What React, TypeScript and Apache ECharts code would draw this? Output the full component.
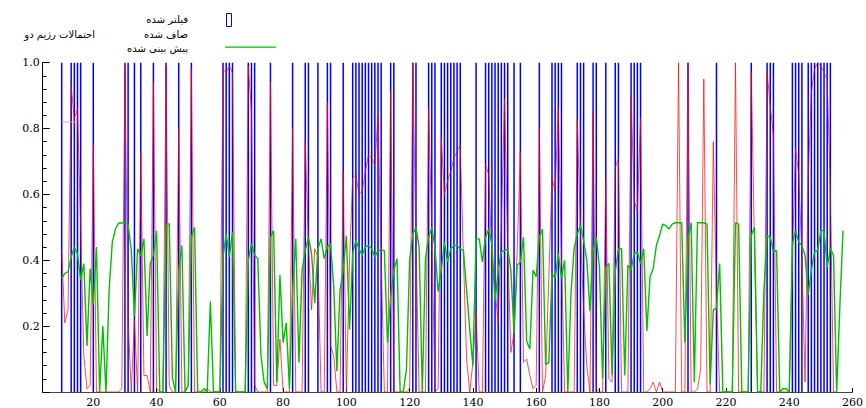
import React, { useEffect, useRef } from "react";
import * as echarts from "echarts";

const X_MIN = 4;
const X_MAX = 260;
const xTickValues = [20, 40, 60, 80, 100, 120, 140, 160, 180, 200, 220, 240, 260];
const START = 10;

// blue: filtered (positions where filtered regime-2 flag is on)
const filteredOn = [
  10, 13, 14, 15, 16, 20, 30, 31, 33, 35, 39, 43, 47, 51, 61, 62, 63, 64, 69, 70, 71, 76, 83, 87, 88, 91, 94, 95, 99,
  102, 103, 104, 105, 106, 107, 108, 109, 110, 111, 114, 115, 121, 122, 126, 127, 128, 130, 131, 132, 133, 134, 135,
  136, 141, 144, 145, 146, 147, 148, 149, 150, 151, 153, 155, 161, 165, 166, 167, 168, 173, 174, 175, 178, 179, 182,
  185, 186, 190, 191, 192, 193, 208, 217, 228, 233, 234, 235, 241, 242, 243, 244, 246, 247, 248, 249, 250, 251, 252, 253,
];

// red: smoothed, starting at START
const smoothed = [
  0.43, 0.21, 0.25, 0.93, 0.83, 0.86, 0.5, 0.11, 0.01, 0.02,
  0.75, 0, 0, 0, 0, 0, 0, 0, 0, 0.01,
  0.99, 0.22, 0, 0.22, 0, 0.73, 0.05, 0.05, 0, 0.94,
  0.01, 0, 0, 0.99, 0.02, 0, 0, 0.8, 0, 0,
  0.02, 0.98, 0, 0, 0, 0, 0.01, 0, 0, 0,
  0, 0.98, 0.97, 0.99, 0.97, 0, 0, 0, 0, 0.99,
  0.85, 0.02, 0, 0, 0, 0, 0.94, 0.02, 0.02, 0.16,
  0, 0, 0, 0.8, 0, 0, 0, 0.76, 0.45, 0.25,
  0.435, 0.41, 0, 0, 0.88, 0.14, 0.11, 0, 0, 0.67,
  0, 0.4, 0.65, 0.66, 0.6, 0.61, 0.67, 0.72, 0.71, 0.69,
  0.84, 0.41, 0, 0, 0.91, 0, 0, 0, 0, 0,
  0.01, 1, 0.45, 0, 0, 0, 0.86, 0.5, 0, 0.01,
  0.77, 0.6, 0.64, 0.67, 0.71, 0.73, 0.75, 0.41, 0.1, 0,
  0.09, 0.24, 0, 0, 0.69, 0.66, 0.41, 0.31, 0.21, 0.51,
  0.89, 0.435, 0.12, 0.18, 0.43, 0.73, 0.09, 0.1, 0.05, 0.01,
  0.02, 0.8, 0, 0.05, 0.35, 0.65, 0.61, 0.86, 0.41, 0,
  0, 0, 0, 0.83, 0.49, 0.25, 0.08, 0, 0.85, 0.01,
  0, 0, 0.65, 0.04, 0.03, 0.68, 0.71, 0, 0, 0,
  0.9, 0.58, 0.55, 0.83, 0, 0, 0.01, 0.03, 0, 0.03,
  0, 0, 0, 0, 0, 1, 0, 0, 1, 0,
  0, 0.01, 0.07, 0.95, 0, 0, 0.76, 0.3, 0, 0,
  0, 0, 0, 1, 0, 0, 0, 0, 0.97, 0.45,
  0, 0, 0, 0.97, 0.87, 0.78, 0, 0, 0, 0,
  0, 0.41, 0.74, 0.66, 0.41, 0.03, 0.65, 0.91, 0.98, 1,
  0.99, 0.97, 0.95, 0.61, 0, 0,
];

// green: predicted, starting at START
const predicted = [
  0.345, 0.36, 0.365, 0.41, 0.44, 0.42, 0.34, 0.39, 0.14, 0.375,
  0.265, 0.44, 0, 0.2, 0, 0.31, 0.455, 0.495, 0.513, 0.513,
  0.513, 0.51, 0.43, 0.23, 0.435, 0.415, 0.465, 0.17, 0.39, 0.415,
  0.49, 0, 0, 0.51, 0.51, 0.043, 0, 0.37, 0.445, 0,
  0.02, 0.47, 0.5, 0, 0, 0.01, 0, 0.275, 0, 0,
  0, 0.41, 0.48, 0.41, 0.485, 0, 0, 0, 0, 0.4,
  0.45, 0.415, 0.405, 0.11, 0.03, 0.01, 0.47, 0.49, 0.03, 0.355,
  0.15, 0.21, 0.01, 0.31, 0.465, 0.09, 0.37, 0.43, 0.47, 0.42,
  0.27, 0.435, 0.465, 0.405, 0.44, 0.45, 0.32, 0.063, 0.31, 0.37,
  0.475, 0.19, 0.42, 0.46, 0.435, 0.415, 0.44, 0.445, 0.435, 0.41,
  0.43, 0.43, 0.43, 0.15, 0.29, 0.37, 0.405, 0, 0, 0.07,
  0.4, 0.48, 0.5, 0.44, 0, 0.405, 0.47, 0.5, 0.44, 0.305,
  0.37, 0.455, 0.395, 0.435, 0.445, 0.445, 0.435, 0.43, 0.31, 0.19,
  0.08, 0.465, 0.465, 0.395, 0.47, 0.495, 0.45, 0.275, 0.37, 0.425,
  0.43, 0.435, 0.37, 0.18, 0.385, 0.395, 0.47, 0.155, 0.13, 0.37,
  0.35, 0.47, 0.495, 0.083, 0.09, 0.36, 0.345, 0.42, 0.345, 0.4,
  0, 0.3, 0.435, 0.48, 0.505, 0.46, 0.4, 0.245, 0.43, 0.47,
  0.38, 0.04, 0.38, 0.39, 0.05, 0.365, 0.435, 0.435, 0.05, 0.385,
  0.37, 0.42, 0.425, 0.39, 0.435, 0.185, 0.35, 0.375, 0.445, 0.475,
  0.51, 0.505, 0.495, 0.51, 0.514, 0.514, 0.514, 0.15, 0.465, 0.514,
  0.03, 0.514, 0.514, 0.514, 0.51, 0.023, 0.25, 0.255, 0.39, 0,
  0, 0, 0, 0.514, 0.51, 0, 0, 0, 0.475, 0.5,
  0, 0, 0.31, 0.475, 0.47, 0.425, 0.43, 0, 0.01, 0.01,
  0, 0.45, 0.49, 0.455, 0.445, 0.415, 0.295, 0.37, 0.425, 0.43,
  0.49, 0.49, 0.38, 0.435, 0.415, 0, 0.26, 0.49,
];

// short flat pink segment at the start of the smoothed curve
const flatSegX = [10, 15];
const flatSegLevel = 0.82;

const legendLabels = ["فیلتر شده", "صاف شده", "پیش بینی شده"];
const titleText = "احتمالات رژیم دو";

export default function App() {
  const ref = useRef<HTMLDivElement>(null);

  useEffect(() => {
    if (!ref.current) return;
    const chart = echarts.init(ref.current, null, { renderer: "svg" });
    const serif = "'DejaVu Serif', serif";
    const sans = "'DejaVu Sans', sans-serif";
    chart.setOption({
      animation: false,
      backgroundColor: "#fff",
      grid: { left: 42.7, right: 10.3, top: 62.7, bottom: 14, containLabel: false },
      xAxis: {
        type: "value",
        min: X_MIN,
        max: X_MAX,
        axisLine: { show: true, lineStyle: { color: "#444", width: 1 } },
        axisTick: { show: true, inside: true, length: 4, customValues: xTickValues, lineStyle: { color: "#000" } },
        axisLabel: {
          customValues: xTickValues,
          fontFamily: serif,
          fontSize: 11,
          color: "#000",
          margin: 5,
        },
        splitLine: { show: false },
      },
      yAxis: {
        type: "value",
        min: 0,
        max: 1,
        interval: 0.2,
        axisLine: { show: true, lineStyle: { color: "#000", width: 1 } },
        axisTick: { show: true, inside: true, length: 7, lineStyle: { color: "#000" } },
        minorTick: { show: true, splitNumber: 5, length: 4, lineStyle: { color: "#000" } },
        axisLabel: {
          fontFamily: serif,
          fontSize: 11,
          color: "#000",
          margin: 3,
          formatter: (v: number) => (v === 0 ? "" : v.toFixed(1)),
        },
        splitLine: { show: false },
      },
      series: [
        {
          name: legendLabels[0],
          type: "bar",
          data: filteredOn.map((n) => [n, 1]),
          barWidth: 1.5,
          itemStyle: { color: "#0000ff" },
          z: 1,
        },
        {
          name: "flat",
          type: "line",
          data: flatSegX.map((x) => [x, flatSegLevel]),
          symbol: "none",
          lineStyle: { color: "#ff9999", width: 1 },
          z: 2,
        },
        {
          name: legendLabels[1],
          type: "line",
          data: smoothed.map((v, i) => [START + i, v]),
          symbol: "none",
          lineStyle: { color: "#ff0000", width: 1, opacity: 0.7 },
          z: 3,
        },
        {
          name: legendLabels[2],
          type: "line",
          data: predicted.map((v, i) => [START + i, v]),
          symbol: "none",
          lineStyle: { color: "#00c000", width: 1.4 },
          z: 4,
        },
      ],
      graphic: [
        {
          type: "text",
          x: 95,
          y: 34,
          style: { text: titleText, font: `10px ${sans}`, fill: "#000", align: "right", verticalAlign: "middle" },
        },
        {
          type: "text",
          x: 188,
          y: 19,
          style: { text: legendLabels[0], font: `10px ${sans}`, fill: "#000", align: "right", verticalAlign: "middle" },
        },
        {
          type: "text",
          x: 188,
          y: 34,
          style: { text: legendLabels[1], font: `10px ${sans}`, fill: "#000", align: "right", verticalAlign: "middle" },
        },
        {
          type: "text",
          x: 188,
          y: 48,
          style: { text: legendLabels[2], font: `10px ${sans}`, fill: "#000", align: "right", verticalAlign: "middle" },
        },
        {
          type: "rect",
          shape: { x: 226.5, y: 13.5, width: 5, height: 13 },
          style: { fill: "none", stroke: "#0000ff", lineWidth: 1 },
        },
        {
          type: "rect",
          shape: { x: 225, y: 46.5, width: 51, height: 1.2 },
          style: { fill: "#00c000", stroke: "none" },
        },
      ],
    });
    return () => chart.dispose();
  }, []);

  return (
    <div
      ref={ref}
      style={{ position: "absolute", left: 0, top: 0, width: 866, height: 408, background: "#fff" }}
    />
  );
}
